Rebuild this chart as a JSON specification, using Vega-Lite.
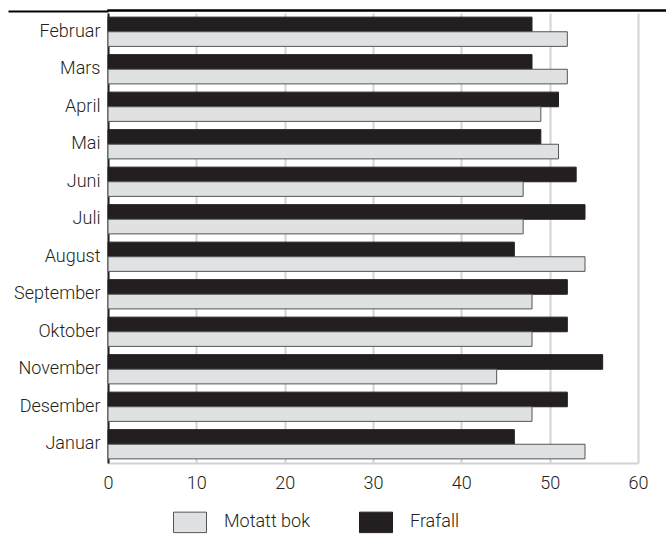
{
  "$schema": "https://vega.github.io/schema/vega-lite/v6.json",
  "padding": {"left": 6, "top": 9, "right": 0, "bottom": 0},
  "background": "white",
  "spacing": 0,
  "config": {
    "view": {"stroke": null},
    "font": "Roboto",
    "axis": {"labelFont": "Roboto", "labelFontSize": 18, "labelFontWeight": 300, "labelColor": "#231f20", "title": null}
  },
  "data": {
    "values": [
      {"month": "Februar", "series": "Frafall", "value": 48},
      {"month": "Februar", "series": "Motatt bok", "value": 52},
      {"month": "Mars", "series": "Frafall", "value": 48},
      {"month": "Mars", "series": "Motatt bok", "value": 52},
      {"month": "April", "series": "Frafall", "value": 51},
      {"month": "April", "series": "Motatt bok", "value": 49},
      {"month": "Mai", "series": "Frafall", "value": 49},
      {"month": "Mai", "series": "Motatt bok", "value": 51},
      {"month": "Juni", "series": "Frafall", "value": 53},
      {"month": "Juni", "series": "Motatt bok", "value": 47},
      {"month": "Juli", "series": "Frafall", "value": 54},
      {"month": "Juli", "series": "Motatt bok", "value": 47},
      {"month": "August", "series": "Frafall", "value": 46},
      {"month": "August", "series": "Motatt bok", "value": 54},
      {"month": "September", "series": "Frafall", "value": 52},
      {"month": "September", "series": "Motatt bok", "value": 48},
      {"month": "Oktober", "series": "Frafall", "value": 52},
      {"month": "Oktober", "series": "Motatt bok", "value": 48},
      {"month": "November", "series": "Frafall", "value": 56},
      {"month": "November", "series": "Motatt bok", "value": 44},
      {"month": "Desember", "series": "Frafall", "value": 52},
      {"month": "Desember", "series": "Motatt bok", "value": 48},
      {"month": "Januar", "series": "Frafall", "value": 46},
      {"month": "Januar", "series": "Motatt bok", "value": 54}
    ]
  },
  "vconcat": [
    {
      "width": 560,
      "height": 1,
      "view": {"stroke": "#000000", "strokeWidth": 1.5},
      "mark": {"type": "point", "opacity": 0, "size": 0},
      "encoding": {
        "y": {
          "field": "value", "type": "quantitative",
          "scale": {"domain": [0, 100]},
          "axis": {"values": [50], "labels": false, "domain": false, "grid": false, "ticks": true, "tickSize": 100, "tickWidth": 2, "tickColor": "#000000", "tickOffset": 0}
        }
      }
    },
    {
      "width": 530,
      "height": 450,
      "mark": {"type": "bar", "strokeWidth": 1},
      "encoding": {
        "y": {
          "field": "month", "type": "nominal",
          "sort": ["Februar", "Mars", "April", "Mai", "Juni", "Juli", "August", "September", "Oktober", "November", "Desember", "Januar"],
          "scale": {"paddingInner": 0.22, "paddingOuter": 0.11},
          "axis": {"domainColor": "#231f20", "domainWidth": 2, "ticks": false, "labelPadding": 8, "grid": false}
        },
        "yOffset": {"field": "series", "type": "nominal", "scale": {"domain": ["Frafall", "Motatt bok"]}},
        "x": {
          "field": "value", "type": "quantitative",
          "scale": {"domain": [0, 60], "nice": false},
          "axis": {"values": [0, 10, 20, 30, 40, 50, 60], "grid": true, "gridColor": "#d3d3d3", "gridWidth": 2, "domainColor": "#d3d3d3", "domainWidth": 2, "ticks": false, "labelPadding": 11, "labelFlush": false}
        },
        "color": {
          "field": "series", "type": "nominal",
          "scale": {"domain": ["Motatt bok", "Frafall"], "range": ["#e0e1e3", "#231f20"]},
          "legend": {"title": null, "orient": "none", "legendX": 65, "legendY": 495, "direction": "horizontal", "symbolType": "M-1,-0.62H1V0.62H-1Z", "symbolSize": 1089, "symbolStrokeWidth": 1, "labelFont": "Roboto", "labelFontWeight": 300, "labelFontSize": 18, "labelColor": "#231f20", "labelOffset": 17, "columnPadding": 47, "padding": 0}
        },
        "stroke": {
          "field": "series", "type": "nominal",
          "scale": {"domain": ["Motatt bok", "Frafall"], "range": ["#555555", "#231f20"]},
          "legend": {"title": null, "orient": "none", "legendX": 65, "legendY": 495, "direction": "horizontal", "symbolType": "M-1,-0.62H1V0.62H-1Z", "symbolSize": 1089, "symbolStrokeWidth": 1, "labelFont": "Roboto", "labelFontWeight": 300, "labelFontSize": 18, "labelColor": "#231f20", "labelOffset": 17, "columnPadding": 47, "padding": 0}
        }
      }
    }
  ]
}
